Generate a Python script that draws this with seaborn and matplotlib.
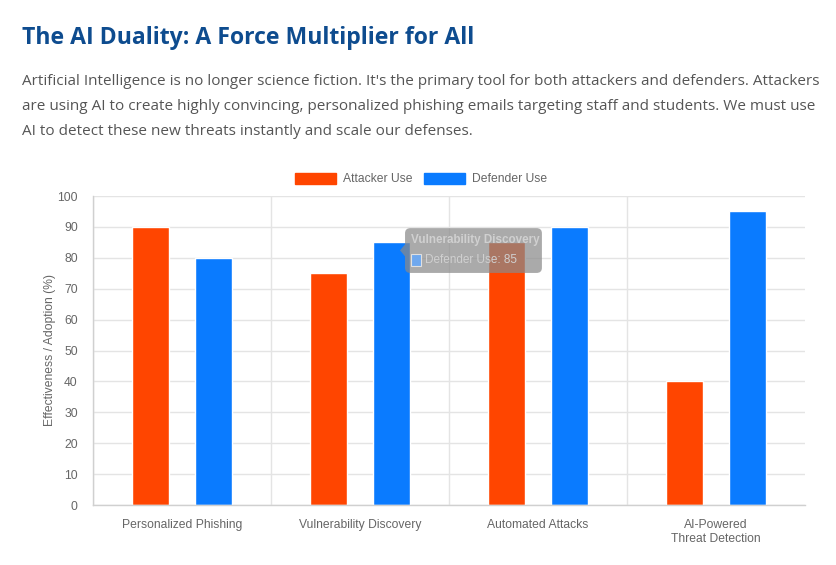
import matplotlib
matplotlib.use("Agg")
import matplotlib.pyplot as plt
import pandas as pd
import seaborn as sns
from matplotlib.patches import Patch, FancyBboxPatch, Polygon

categories = ["Personalized Phishing", "Vulnerability Discovery",
              "Automated Attacks", "AI-Powered\nThreat Detection"]
attacker_use = [90, 75, 85, 40]
defender_use = [80, 85, 90, 95]
series = ["Attacker Use", "Defender Use"]
colors = ["#FF4500", "#0A7BFF"]

title = "The AI Duality: A Force Multiplier for All"
intro = ("Artificial Intelligence is no longer science fiction. It's the primary tool for both attackers and defenders. Attackers\n"
         "are using AI to create highly convincing, personalized phishing emails targeting staff and students. We must use\n"
         "AI to detect these new threats instantly and scale our defenses.")

df = pd.DataFrame({
    "Category": categories * 2,
    "Series": [series[0]] * 4 + [series[1]] * 4,
    "Value": attacker_use + defender_use,
})

sns.set_theme(style="white")
plt.rcParams["font.family"] = ["Liberation Sans", "DejaVu Sans"]

fig = plt.figure(figsize=(8.36, 5.65), dpi=100)
ax = fig.add_axes([93 / 836, 60 / 565, 712 / 836, 309 / 565])

sns.barplot(data=df, x="Category", y="Value", hue="Series", palette=colors,
            width=0.7, gap=0.41, saturation=1, ax=ax, legend=False)

grid_c = "#e4e4e4"
ax.set_xlim(-0.5, 3.5)
ax.set_ylim(0, 100)
ax.set_yticks(range(0, 101, 10))
ax.set_xticks([i + 0.5 for i in range(-1, 3)], minor=True)
ax.grid(axis="y", color=grid_c, lw=1)
ax.grid(axis="x", which="minor", color=grid_c, lw=1)
ax.tick_params(axis="x", which="major", length=0, pad=10, labelsize=8.7, labelcolor="#666666")
ax.tick_params(axis="x", which="minor", length=7, color=grid_c, width=1)
ax.tick_params(axis="y", length=7, color=grid_c, width=1, pad=4, labelsize=8.7, labelcolor="#666666")
ax.set_axisbelow(True)
for s in ["top", "right"]:
    ax.spines[s].set_visible(False)
for s in ["left", "bottom"]:
    ax.spines[s].set_color("#d0d0d0")
    ax.spines[s].set_linewidth(1)
ax.set_xlabel("")
ax.set_ylabel("Effectiveness / Adoption (%)", fontsize=8.7, color="#666666", labelpad=1)

handles = [Patch(facecolor=c, edgecolor=c) for c in colors]
fig.legend(handles, series, loc="center", bbox_to_anchor=(421 / 836, 1 - 179 / 565),
           ncol=2, frameon=False, fontsize=8.7, labelcolor="#666666",
           handlelength=3.4, handleheight=1.0, handletextpad=0.6, columnspacing=0.9)

# hover tooltip shown in the screenshot
ax.add_patch(FancyBboxPatch((1.253, 75.1), 0.769, 14.5,
                            boxstyle="round,pad=0,rounding_size=0.03", mutation_aspect=55,
                            fc="#8a8a8a", ec="none", alpha=0.72, zorder=10))
ax.add_patch(Polygon([(1.225, 82.4), (1.254, 84.4), (1.254, 80.4)], closed=True,
                     fc="#8a8a8a", ec="none", alpha=0.72, zorder=10))
ax.text(1.287, 85.6, "Vulnerability Discovery", fontsize=8.4, fontweight="bold",
        color="#d0d0d0", va="center", ha="left", zorder=11)
ax.add_patch(plt.Rectangle((1.287, 77.4), 0.056, 3.9, fc="#6fa8ee", ec="#e0e0e0", lw=0.8, zorder=11))
ax.text(1.365, 79.3, "Defender Use: 85", fontsize=8.5, color="#d0d0d0",
        va="center", ha="left", zorder=11)

fig.text(22 / 836, 1 - 38 / 565, title, fontsize=16.6, fontweight="bold", color="#0E4C8F",
         family=["Open Sans", "DejaVu Sans"], va="center")
fig.text(22 / 836, 1 - 106.5 / 565, intro, fontsize=10.95, color="#555555", linespacing=1.88,
         family=["Open Sans", "DejaVu Sans"], va="center")

fig.savefig("out.png", dpi=100)
